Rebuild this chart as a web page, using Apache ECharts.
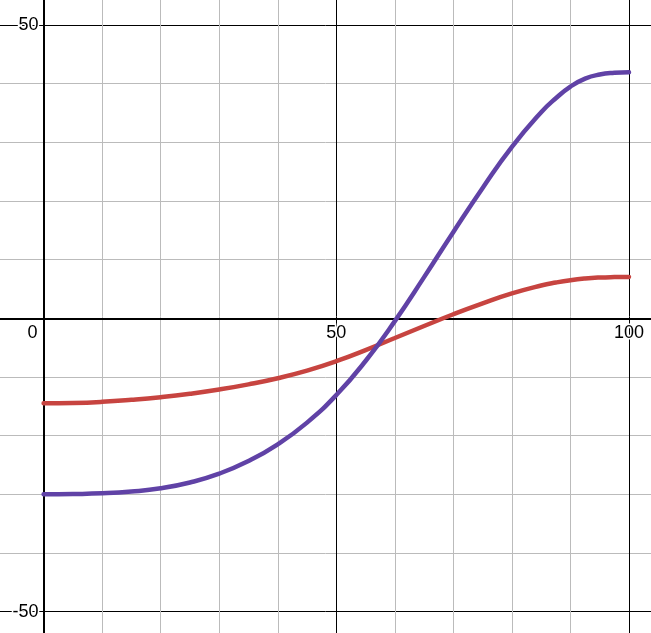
<!DOCTYPE html>
<html>
<head>
<meta charset="utf-8">
<script src="https://cdn.jsdelivr.net/npm/echarts@6/dist/echarts.min.js"></script>
<style>
html,body{margin:0;padding:0;background:#fff;}
#c{width:651px;height:633px;}
</style>
</head>
<body>
<div id="c"></div>
<script>
const xs = [0,5,10,15,20,25,30,35,40,45,50,55,60,65,70,75,80,85,87.5,90,92.5,95,97.5,100];
const purpleY = [-30.0,-29.95,-29.83,-29.53,-28.98,-27.98,-26.48,-24.33,-21.48,-17.78,-13.08,-7.28,-0.48,7.02,14.72,22.22,29.22,35.12,37.5,39.5,40.85,41.55,41.85,41.95];
const redY = [-14.5,-14.44,-14.24,-13.89,-13.44,-12.86,-12.14,-11.26,-10.21,-8.91,-7.31,-5.41,-3.36,-1.31,0.69,2.54,4.24,5.59,6.1,6.5,6.78,6.95,7.03,7.06];
const xTickLabels = [0,50,100];
const yTickLabels = [-50,50];

const chart = echarts.init(document.getElementById('c'), null, {renderer:'canvas'});
const ux = 5.854, uy = 5.867, x0 = 43.6, y0 = 318.3;
const xMin = -10, xMax = 110, yMin = -60, yMax = 60;
const font = 'Liberation Sans, Arial, sans-serif';
const splitColors = ['#bbbbbb','#000000','#bbbbbb','#bbbbbb','#bbbbbb'];

chart.setOption({
  animation:false,
  backgroundColor:'#fff',
  grid:{left:x0+xMin*ux, top:y0-yMax*uy, width:(xMax-xMin)*ux, height:(yMax-yMin)*uy, containLabel:false, outerBoundsMode:'none'},
  xAxis:{
    type:'value', min:xMin, max:xMax, interval:10, position:'bottom',
    offset:yMin*uy,
    axisLine:{onZero:false, lineStyle:{color:'#000', width:2}},
    axisTick:{show:false},
    splitLine:{show:true, lineStyle:{color:splitColors, width:1}},
    axisLabel:{
      interval:0, margin:6, color:'#000', fontFamily:font, fontSize:18,
      showMinLabel:true, showMaxLabel:true, hideOverlap:false,
      formatter:v => xTickLabels.includes(v) ? (v===0 ? '{z|0}' : String(v)) : '',
      textBorderColor:'#fff', textBorderWidth:3,
      rich:{z:{fontSize:18, fontFamily:font, color:'#000', padding:[0,22,0,0], textBorderColor:'#fff', textBorderWidth:3}}
    }
  },
  yAxis:{
    type:'value', min:yMin, max:yMax, interval:10, position:'left',
    offset:xMin*ux,
    axisLine:{onZero:false, lineStyle:{color:'#000', width:2}},
    axisTick:{show:false},
    splitLine:{show:true, lineStyle:{color:splitColors, width:1}},
    axisLabel:{
      interval:0, margin:5, color:'#000', fontFamily:font, fontSize:18, hideOverlap:false,
      formatter:v => yTickLabels.includes(v) ? String(v) : '',
      textBorderColor:'#fff', textBorderWidth:3
    }
  },
  series:[
    {type:'line', smooth:0.5, showSymbol:false, data:xs.map((x,i)=>[x,redY[i]]),
     lineStyle:{color:'#c74440', width:4.5, cap:'round'}, z:3},
    {type:'line', smooth:0.5, showSymbol:false, data:xs.map((x,i)=>[x,purpleY[i]]),
     lineStyle:{color:'#6042a6', width:4.5, cap:'round'}, z:4}
  ]
});
</script>
</body>
</html>
